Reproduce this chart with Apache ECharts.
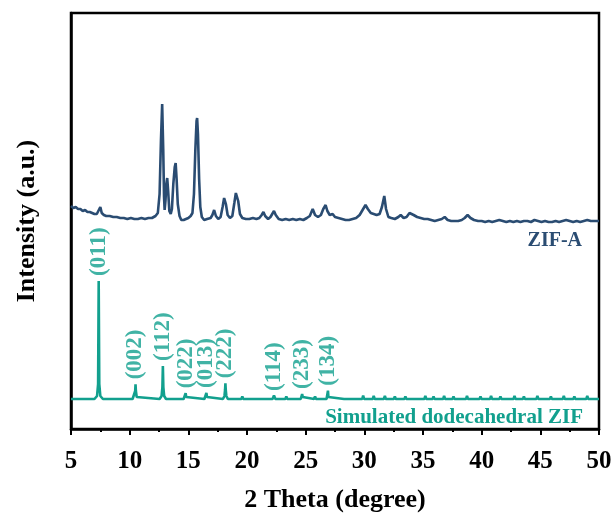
<!DOCTYPE html>
<html>
<head>
<meta charset="utf-8">
<script src="https://cdn.jsdelivr.net/npm/echarts@6/dist/echarts.min.js"></script>
<style>
  html, body { margin: 0; padding: 0; background: #ffffff; }
  #chart { width: 616px; height: 527px; }
</style>
</head>
<body>
<div id="chart"></div>
<script>
// XRD pattern of ZIF-A (measured), intensity in arbitrary units (offset stack)
const zifATheta = [
  5.0, 5.2, 5.4, 5.6, 5.8, 6.0, 6.2, 6.4, 6.6, 6.8, 7.0, 7.2, 7.35, 7.5, 7.62, 7.8,
  8.0, 8.3, 8.6, 8.9, 9.2, 9.5, 9.8, 10.1, 10.4, 10.7, 11.0, 11.3, 11.6, 11.9, 12.2, 12.4,
  12.55, 12.67, 12.77, 12.86, 12.93, 12.98, 13.05, 13.13, 13.2, 13.28, 13.38, 13.5, 13.6,
  13.72, 13.84, 13.92, 14.0, 14.1, 14.25, 14.4, 14.6, 14.8, 15.0, 15.2, 15.35, 15.48, 15.6,
  15.7, 15.75, 15.82, 15.92, 16.02, 16.15, 16.35, 16.6, 16.9, 17.05, 17.2, 17.35, 17.55,
  17.75, 17.92, 18.05, 18.1, 18.2, 18.35, 18.55, 18.75, 18.92, 19.05, 19.13, 19.25, 19.4,
  19.6, 19.9, 20.2, 20.5, 20.8, 21.05, 21.25, 21.4, 21.55, 21.8, 22.0, 22.15, 22.3, 22.45,
  22.7, 23.0, 23.3, 23.6, 23.9, 24.2, 24.5, 24.8, 25.1, 25.35, 25.6, 25.8, 26.05, 26.3,
  26.5, 26.7, 26.85, 27.05, 27.3, 27.5, 27.8, 28.1, 28.4, 28.7, 29.0, 29.3, 29.6, 29.85,
  30.1, 30.3, 30.55, 30.8, 31.05, 31.3, 31.5, 31.7, 31.85, 32.05, 32.3, 32.6, 32.9, 33.1,
  33.35, 33.6, 33.85, 34.0, 34.2, 34.5, 34.8, 35.1, 35.4, 35.7, 36.0, 36.3, 36.6, 36.85,
  37.1, 37.4, 37.7, 38.0, 38.3, 38.55, 38.8, 39.05, 39.35, 39.7, 40.0, 40.3, 40.6, 40.9,
  41.2, 41.5, 41.8, 42.1, 42.4, 42.7, 43.0, 43.3, 43.6, 43.9, 44.2, 44.5, 44.8, 45.1, 45.4,
  45.7, 46.0, 46.3, 46.6, 46.9, 47.2, 47.5, 47.8, 48.1, 48.4, 48.7, 49.0, 49.3, 49.6, 50.0
];
const zifAIntensity = [
  223, 221, 222, 220, 220, 218, 219, 217, 217, 216, 215, 215, 217, 222, 216, 214,
  213, 213, 212, 212, 211, 211, 210, 211, 210, 210, 211, 210, 211, 211, 213, 216,
  235, 290, 325, 280, 232, 219, 228, 245, 251, 238, 218, 215, 220,
  245, 262, 266, 250, 225, 213, 209, 209, 210, 211, 213, 216, 235, 280,
  308, 311, 295, 250, 222, 212, 209, 210, 211, 214, 219, 213, 210,
  212, 222, 231, 232, 225, 214, 211, 213, 226, 236, 238, 228, 215,
  211, 210, 210, 211, 210, 211, 214, 217, 213, 210, 212, 215, 218, 214,
  210, 209, 210, 209, 210, 209, 210, 209, 211, 213, 220, 214, 212, 214,
  220, 224, 218, 214, 215, 212, 211, 210, 209, 209, 210, 211, 214, 219,
  224, 220, 216, 215, 214, 215, 222, 233, 220, 212, 211, 210, 212, 214,
  211, 212, 216, 218, 214, 212, 211, 210, 210, 209, 208, 209, 210, 212,
  209, 208, 208, 208, 209, 211, 214, 211, 209, 208, 208, 207, 208, 207,
  208, 209, 208, 207, 208, 207, 208, 207, 208, 208, 207, 209, 208, 207, 208,
  207, 207, 208, 207, 208, 209, 208, 207, 208, 207, 208, 209, 208, 208, 208
];

// Simulated pattern of dodecahedral ZIF
const simTheta = [
  5.0, 7.0, 7.22, 7.31, 7.36, 7.41, 7.5, 7.72,
  10.25, 10.4, 10.47, 10.5, 10.53, 10.6, 10.75,
  12.55, 12.72, 12.79, 12.83, 12.87, 12.94, 13.1,
  14.6, 14.72, 14.77, 14.82, 14.94,
  16.37, 16.49, 16.54, 16.59, 16.71,
  17.95, 18.08, 18.13, 18.16, 18.19, 18.24, 18.37,
  19.52, 19.6, 19.68,
  22.18, 22.3, 22.42,
  23.27, 23.35, 23.43,
  24.58, 24.65, 24.7, 24.75, 24.82,
  25.72, 25.8, 25.88,
  26.78, 26.86, 26.9, 26.94, 27.02,
  28.27, 28.35, 28.43,
  29.82, 29.9, 29.98,
  30.72, 30.8, 30.88,
  31.67, 31.75, 31.83,
  32.52, 32.6, 32.68,
  33.42, 33.5, 33.58,
  35.12, 35.2, 35.28,
  35.82, 35.9, 35.98,
  36.72, 36.8, 36.88,
  37.52, 37.6, 37.68,
  38.67, 38.75, 38.83,
  39.82, 39.9, 39.98,
  40.72, 40.8, 40.88,
  41.52, 41.6, 41.68,
  42.72, 42.8, 42.88,
  43.52, 43.6, 43.68,
  44.67, 44.75, 44.83,
  45.82, 45.9, 45.98,
  46.92, 47.0, 47.08,
  47.82, 47.9, 47.98,
  48.92, 49.0, 49.08,
  50.0
];
const simIntensity = [
  30, 30, 33, 45, 148, 45, 33, 30,
  30, 32, 38, 44.7, 38, 32, 30,
  30, 33, 42, 63, 42, 33, 30,
  30, 32, 35.7, 32, 30,
  30, 32, 36, 32, 30,
  30, 33, 39, 45.7, 39, 33, 30,
  30, 32.5, 30,
  30, 33.5, 30,
  30, 32.5, 30,
  30, 32, 35, 32, 30,
  30, 32.5, 30,
  30, 32, 38.3, 32, 30,
  30, 32, 30,
  30, 33.5, 30,
  30, 33, 30,
  30, 33, 30,
  30, 32.5, 30,
  30, 32.5, 30,
  30, 33, 30,
  30, 32.5, 30,
  30, 33, 30,
  30, 32.5, 30,
  30, 33, 30,
  30, 32.5, 30,
  30, 33, 30,
  30, 32.5, 30,
  30, 33, 30,
  30, 32.5, 30,
  30, 33, 30,
  30, 32.5, 30,
  30, 33, 30,
  30, 32.5, 30,
  30, 33, 30,
  30
];

// Miller indices of the indexed reflections
const hklLabels = ['(011)', '(002)', '(112)', '(022)', '(013)', '(222)', '(114)', '(233)', '(134)'];
const hklTheta = [7.36, 10.5, 12.83, 14.77, 16.54, 18.16, 22.3, 24.7, 26.9];
const hklIntensity = [148, 44.7, 63, 35.7, 36, 45.7, 33, 35, 38.3];

const xTicks = [5, 10, 15, 20, 25, 30, 35, 40, 45, 50];

const NAVY = '#2a4c72';
const TEAL = '#12a08e';
const SERIF = '"Liberation Serif", "Times New Roman", "DejaVu Serif", serif';

const zip = (xs, ys) => xs.map((x, i) => [x, ys[i]]);

const chart = echarts.init(document.getElementById('chart'), null, { renderer: 'canvas' });

chart.setOption({
  backgroundColor: '#ffffff',
  animation: false,
  grid: {
    left: 71, right: 17, top: 13, bottom: 98,
    show: true, borderColor: '#000', borderWidth: 2.5, backgroundColor: 'transparent'
  },
  xAxis: {
    type: 'value',
    min: xTicks[0],
    max: xTicks[xTicks.length - 1],
    interval: 5,
    name: '2 Theta (degree)',
    nameLocation: 'middle',
    nameGap: 58,
    nameTextStyle: { fontFamily: SERIF, fontWeight: 'bold', fontSize: 26, color: '#000' },
    axisLine: { show: true, onZero: false, lineStyle: { color: '#000', width: 2.5 } },
    axisTick: { show: true, inside: false, length: 6, lineStyle: { color: '#000', width: 2 } },
    minorTick: { show: true, splitNumber: 2, length: 3, lineStyle: { color: '#000', width: 2 } },
    axisLabel: { margin: 20, fontFamily: SERIF, fontWeight: 'bold', fontSize: 25, color: '#000' },
    splitLine: { show: false }
  },
  yAxis: {
    type: 'value',
    min: 0,
    max: 416,
    name: 'Intensity (a.u.)',
    nameLocation: 'middle',
    nameRotate: 90,
    nameGap: 31,
    nameTextStyle: { fontFamily: SERIF, fontWeight: 'bold', fontSize: 26, color: '#000' },
    axisLine: { show: true, lineStyle: { color: '#000', width: 2.5 } },
    axisTick: { show: false },
    axisLabel: { show: false },
    splitLine: { show: false }
  },
  series: [
    {
      name: 'ZIF-A',
      type: 'line',
      data: zip(zifATheta, zifAIntensity),
      showSymbol: false,
      symbol: 'none',
      lineStyle: { color: NAVY, width: 2.6 },
      z: 3
    },
    {
      name: 'Simulated dodecahedral ZIF',
      type: 'line',
      data: zip(simTheta, simIntensity),
      showSymbol: false,
      symbol: 'none',
      lineStyle: { color: TEAL, width: 2.6 },
      z: 3
    },
    {
      name: 'hkl',
      type: 'scatter',
      data: zip(hklTheta, hklIntensity).map((p, i) => ({ value: p, name: hklLabels[i] })),
      symbolSize: 0,
      silent: true,
      label: {
        show: true,
        formatter: (p) => p.name,
        position: 'top',
        distance: 4,
        rotate: 90,
        align: 'left',
        verticalAlign: 'middle',
        offset: [1, 0],
        fontFamily: SERIF,
        fontWeight: 'bold',
        fontSize: 23,
        color: TEAL
      },
      z: 4
    }
  ],
  graphic: [
    {
      type: 'text',
      right: 34,
      top: 231,
      style: { text: 'ZIF-A', fill: NAVY, font: 'bold 20px ' + SERIF }
    },
    {
      type: 'text',
      right: 33,
      top: 407,
      style: { text: 'Simulated dodecahedral ZIF', fill: TEAL, font: 'bold 21px ' + SERIF }
    }
  ]
});
</script>
</body>
</html>
